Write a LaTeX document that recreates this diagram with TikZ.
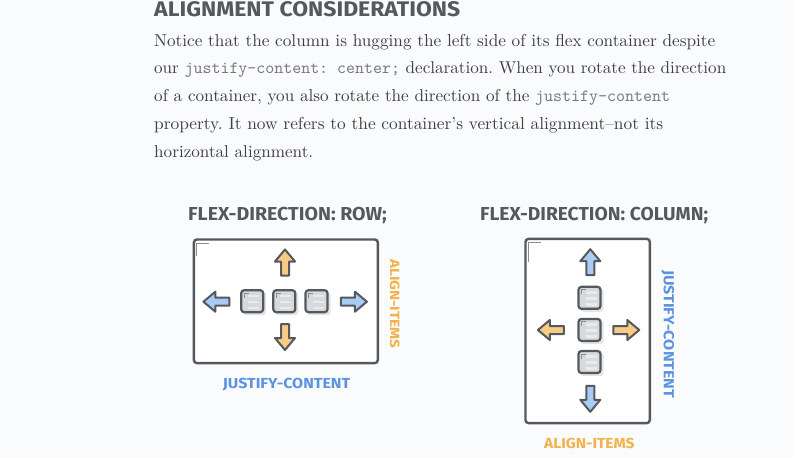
\documentclass[tikz,border=0pt]{standalone}
\usepackage{fontspec}
\usepackage{graphicx}
\newfontfamily\dispfont{Fira Sans}
\definecolor{bg}{HTML}{FAFBFC}
\definecolor{ink}{HTML}{55595E}
\definecolor{bodytxt}{HTML}{3F3F3F}
\definecolor{monotxt}{HTML}{7A7A7A}
\definecolor{orfill}{HTML}{F8CB85}
\definecolor{ortext}{HTML}{F2B24C}
\definecolor{blfill}{HTML}{A9CCF4}
\definecolor{bltext}{HTML}{5C93DF}
\definecolor{sqfill}{HTML}{D6DADD}
\definecolor{sqline}{HTML}{E8EAEC}
\definecolor{sqshadow}{HTML}{E3E5E7}
\definecolor{markgray}{HTML}{8A8D90}
\newcommand{\disp}[3]{\resizebox{#1}{#2}{\dispfont\bfseries #3}}
\frenchspacing
\tikzset{
  boxframe/.style={draw=ink, line width=2.4pt, fill=white, rounded corners=3pt},
  arrowshape/.style={draw=ink, line width=2pt, line join=round},
  txt/.style={anchor=base west, inner sep=0pt, text=bodytxt},
  lbl/.style={inner sep=0pt},
  framemark/.style={draw=markgray, line width=1.3pt},
  pics/flexarrow/.style={code={
    \draw[arrowshape, fill=#1] (0,-13) -- (10,-1) -- (4,-1) -- (4,13)
      -- (-4,13) -- (-4,-1) -- (-10,-1) -- cycle;
  }},
  pics/flexitem/.style={code={
    \fill[sqshadow, rounded corners=3pt] (-9,-9) rectangle (14,14);
    \draw[draw=ink, line width=2.2pt, fill=sqfill, rounded corners=3pt] (-11,-11) rectangle (11,11);
    \draw[sqline, line width=2.4pt] (-4,-5.5) -- (7,-5.5) (-4,0.5) -- (7,0.5) (-4,6.5) -- (7,6.5);
    \draw[markgray, line width=1pt] (-8,-3.5) -- (-8,-8) -- (-3.5,-8);
  }}
}
\begin{document}
\begin{tikzpicture}[x=1pt,y=-1pt]
\useasboundingbox (0,0) rectangle (793,458);
\fill[bg] (0,0) rectangle (793,458);

% heading and body
\node[txt, text=ink] (title) at (154,16.7) {\disp{306pt}{15pt}{ALIGNMENT CONSIDERATIONS}};
\node[txt] (l1) at (154,46) {\resizebox{561pt}{!}{Notice that the column is hugging the left side of its flex container despite}};
\node[txt] (l2) at (154,73.5) {\resizebox{572pt}{!}{our {\color{monotxt}\ttfamily justify-content: center;} declaration. When you rotate the direction}};
\node[txt] (l3) at (154,101.5) {\resizebox{516pt}{!}{of a container, you also rotate the direction of the {\color{monotxt}\ttfamily justify-content}}};
\node[txt] (l4) at (154,129.3) {\resizebox{509pt}{!}{property. It now refers to the container’s vertical alignment--not its}};
\node[txt] (l5) at (154,157) {\resizebox{159pt}{!}{horizontal alignment.}};

% ---- diagram 1: row
\node[txt, text=ink] (t1) at (188,220) {\disp{198.7pt}{13.3pt}{FLEX-DIRECTION: ROW;}};
\draw[boxframe] (193.9,239.5) rectangle (377.8,363.1);
\draw[framemark] (196.6,256) -- (196.6,243.6) -- (209,243.6);
\pic at (252.2,301.2) {flexitem};
\pic at (284.3,301.2) {flexitem};
\pic at (316.5,301.2) {flexitem};
\pic at (285,262.5) {flexarrow=orfill};
\pic[rotate=180] at (285,337) {flexarrow=orfill};
\pic[rotate=90] at (216.4,301.7) {flexarrow=blfill};
\pic[rotate=-90] at (353.9,301.7) {flexarrow=blfill};
\node[lbl, text=ortext, rotate=-90] (ai1) at (394.8,303.8) {\disp{89pt}{9.5pt}{ALIGN-ITEMS}};
\node[lbl, anchor=base west, text=bltext] (jc1) at (222.7,388) {\disp{127.3pt}{10.3pt}{JUSTIFY-CONTENT}};

% ---- diagram 2: column
\node[txt, text=ink] (t2) at (480,220) {\disp{228pt}{13.3pt}{FLEX-DIRECTION: COLUMN;}};
\draw[boxframe] (525.5,238.9) rectangle (649.8,423.1);
\draw[framemark] (528.3,261.5) -- (528.3,242.4) -- (540.7,242.4);
\pic at (589.5,297.8) {flexitem};
\pic at (589.5,329.9) {flexitem};
\pic at (589.5,362) {flexitem};
\pic at (590.3,262.2) {flexarrow=blfill};
\pic[rotate=180] at (590.3,398.8) {flexarrow=blfill};
\pic[rotate=90] at (550.9,330) {flexarrow=orfill};
\pic[rotate=-90] at (626.3,330) {flexarrow=orfill};
\node[lbl, text=bltext, rotate=-90] (jc2) at (667.8,334.2) {\disp{128.3pt}{10.3pt}{JUSTIFY-CONTENT}};
\node[lbl, anchor=base west, text=ortext] (ai2) at (544,448.7) {\disp{90.3pt}{10.3pt}{ALIGN-ITEMS}};
\end{tikzpicture}
\end{document}
